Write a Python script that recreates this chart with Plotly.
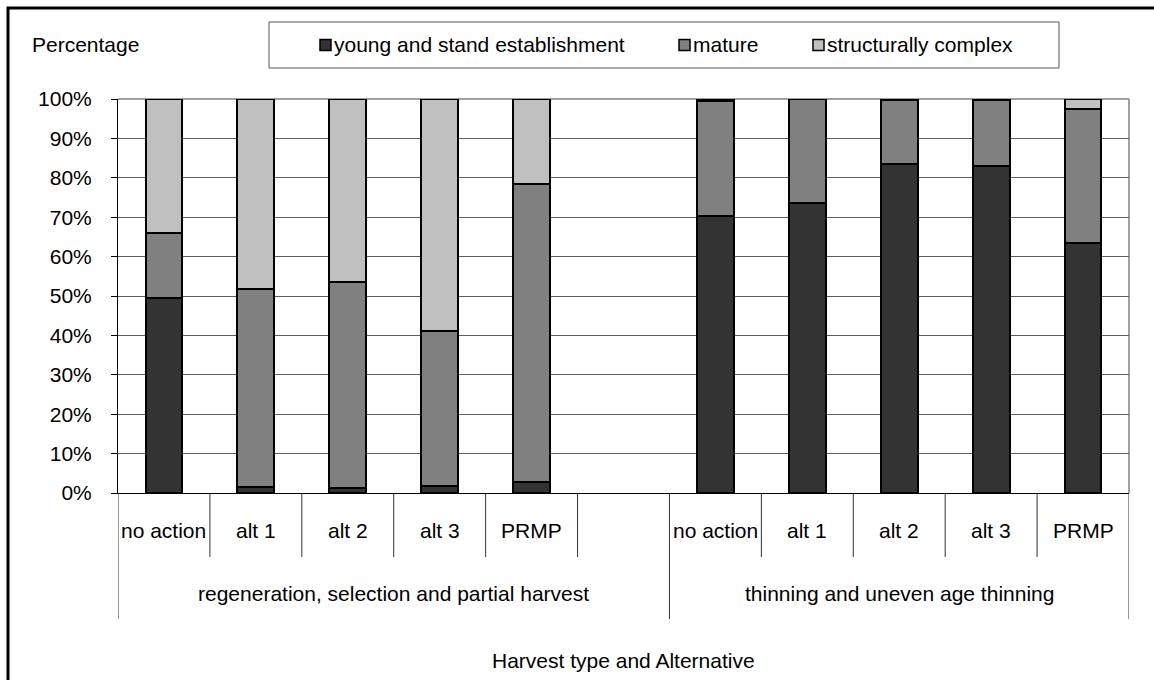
import plotly.graph_objects as go

# ---- data -------------------------------------------------------------
groups = ["regeneration, selection and partial harvest",
          "thinning and uneven age thinning"]
alternatives = ["no action", "alt 1", "alt 2", "alt 3", "PRMP"]
series_names = ["young and stand establishment", "mature", "structurally complex"]

# percentages of area by structural class
young_regen = [49.5, 1.5, 1.3, 1.7, 2.8]
mature_regen = [16.6, 50.4, 52.3, 39.4, 75.6]
complex_regen = [33.9, 48.1, 46.4, 58.9, 21.6]

young_thin = [70.2, 73.5, 83.6, 82.9, 63.5]
mature_thin = [29.3, 26.5, 16.2, 16.9, 34.0]
complex_thin = [0.5, 0.0, 0.2, 0.2, 2.5]

y_ticks = [0, 10, 20, 30, 40, 50, 60, 70, 80, 90, 100]
y_ticktext = [f"{v}%" for v in y_ticks]

# ---- layout helpers ---------------------------------------------------
FIG_W, FIG_H = 1154, 680
PLOT_L, PLOT_R, PLOT_T, PLOT_B = 118, 1129, 99, 493
PW, PH = PLOT_R - PLOT_L, PLOT_B - PLOT_T
FONT = "Liberation Sans, Arial, sans-serif"
FS = 21


def px_x(px):
    return (px - PLOT_L) / PW


def px_y(py):
    return (PLOT_B - py) / PH


# one empty slot separates the two harvest-type groups
n_alt = len(alternatives)
pos_regen = list(range(n_alt))
pos_thin = [n_alt + 1 + i for i in range(n_alt)]
n_slots = 2 * n_alt + 1

colors = ["#333333", "#808080", "#c0c0c0"]
series_regen = [young_regen, mature_regen, complex_regen]
series_thin = [young_thin, mature_thin, complex_thin]

fig = go.Figure()
for name, color, vr, vt in zip(series_names, colors, series_regen, series_thin):
    fig.add_trace(go.Bar(
        x=pos_regen + pos_thin,
        y=vr + vt,
        name=name,
        marker=dict(color=color, line=dict(color="black", width=2)),
        showlegend=False,
        hovertemplate="%{y:.1f}%<extra>" + name + "</extra>",
    ))

shapes = []
annotations = []

# outer chart frame
shapes.append(dict(type="rect", xref="paper", yref="paper",
                   x0=px_x(8), x1=px_x(1162), y0=px_y(8), y1=px_y(690),
                   line=dict(color="black", width=3), layer="above"))

# light grey top and right edges of the plot area
shapes.append(dict(type="line", xref="paper", yref="paper",
                   x0=0, x1=1, y0=1, y1=1,
                   line=dict(color="#a0a0a0", width=2), layer="between"))
shapes.append(dict(type="line", xref="paper", yref="paper",
                   x0=1, x1=1, y0=0, y1=1,
                   line=dict(color="#a0a0a0", width=2), layer="between"))

# category dividers below the axis
row1_bottom = px_y(557)
row2_bottom = px_y(619)
for b in range(n_slots + 1):
    xb = b - 0.5
    full = b in (0, n_alt + 1, n_slots)
    shapes.append(dict(type="line", xref="x", yref="paper",
                       x0=xb, x1=xb, y0=0,
                       y1=row2_bottom if full else row1_bottom,
                       line=dict(color="#303030", width=1)))

# alternative labels
for positions in (pos_regen, pos_thin):
    for p, lab in zip(positions, alternatives):
        annotations.append(dict(x=p, y=px_y(530), xref="x", yref="paper",
                                text=lab, showarrow=False,
                                xanchor="center", yanchor="middle",
                                font=dict(family=FONT, size=FS, color="black")))

# group labels
group_centers = [(-0.5 + n_alt + 0.5) / 2, (n_alt + 0.5 + n_slots - 0.5) / 2]
for gx, g in zip(group_centers, groups):
    annotations.append(dict(x=gx, y=px_y(593), xref="x", yref="paper",
                            text=g, showarrow=False,
                            xanchor="center", yanchor="middle",
                            font=dict(family=FONT, size=FS, color="black")))

# axis titles
annotations.append(dict(x=0.5, y=px_y(660), xref="paper", yref="paper",
                        text="Harvest type and Alternative", showarrow=False,
                        xanchor="center", yanchor="middle",
                        font=dict(family=FONT, size=FS, color="black")))
annotations.append(dict(x=px_x(30), y=px_y(45), xref="paper", yref="paper",
                        text="Percentage", showarrow=False,
                        xanchor="left", yanchor="middle",
                        font=dict(family=FONT, size=FS, color="black")))

# legend box with swatches
shapes.append(dict(type="rect", xref="paper", yref="paper",
                   x0=px_x(269), x1=px_x(1059), y0=px_y(22), y1=px_y(68),
                   line=dict(color="#555555", width=1), fillcolor="white"))
legend_swatch_x = [320, 679, 813]
for sx, name, color in zip(legend_swatch_x, series_names, colors):
    shapes.append(dict(type="rect", xref="paper", yref="paper",
                       x0=px_x(sx), x1=px_x(sx + 11),
                       y0=px_y(39.5), y1=px_y(50.5),
                       fillcolor=color, line=dict(color="black", width=1.5)))
    annotations.append(dict(x=px_x(sx + 12), y=px_y(45), xref="paper", yref="paper",
                            text=name, showarrow=False,
                            xanchor="left", yanchor="middle",
                            font=dict(family=FONT, size=FS, color="black")))

fig.update_layout(
    width=FIG_W, height=FIG_H,
    margin=dict(l=PLOT_L, r=FIG_W - PLOT_R, t=PLOT_T, b=FIG_H - PLOT_B),
    paper_bgcolor="white", plot_bgcolor="white",
    barmode="stack", bargap=0.6,
    font=dict(family=FONT, size=FS, color="black"),
    shapes=shapes, annotations=annotations,
    xaxis=dict(range=[-0.5, n_slots - 0.5], showticklabels=False,
               showgrid=False, zeroline=False, ticks="",
               showline=True, linecolor="black", linewidth=1,
               fixedrange=True),
    yaxis=dict(range=[0, 100], tickvals=y_ticks, ticktext=y_ticktext,
               showgrid=True, gridcolor="#5e5e5e", gridwidth=1,
               zeroline=False, showline=True, linecolor="black", linewidth=1,
               ticks="outside", ticklen=6, tickcolor="black", tickwidth=1,
               ticklabelstandoff=15,
               tickfont=dict(family=FONT, size=FS, color="black"),
               fixedrange=True),
    showlegend=False,
)

fig.write_html("out.html")
